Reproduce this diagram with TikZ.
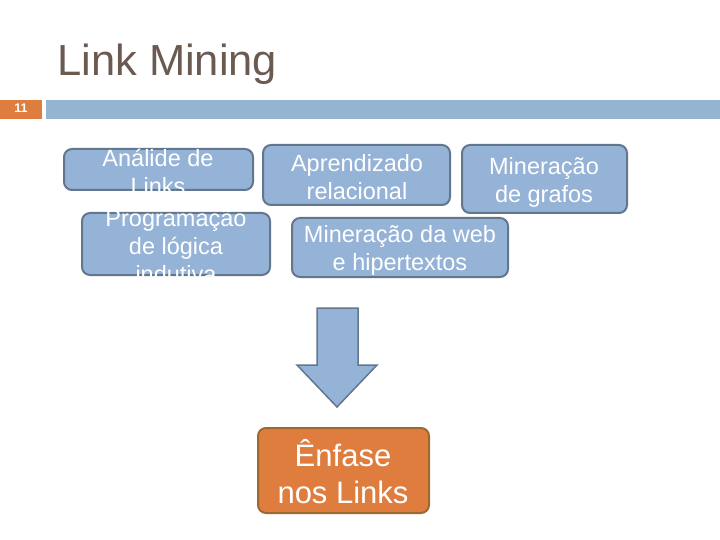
\documentclass[tikz,border=0pt]{standalone}
\usepackage{fontspec}
\setmainfont{Liberation Sans}
\definecolor{boxblue}{HTML}{95B3D7}
\definecolor{boxedge}{HTML}{62778E}
\definecolor{barblue}{HTML}{94B4D2}
\definecolor{orfill}{HTML}{DE7D3E}
\definecolor{oredge}{HTML}{9C6A30}
\definecolor{titlecol}{HTML}{6A5A52}
\tikzset{
  bluebox/.style={draw=boxedge, fill=boxblue, line width=2pt, rounded corners=8pt},
  orbox/.style={draw=oredge, fill=orfill, line width=2pt, rounded corners=8pt},
  boxtext/.style={text=white, align=center, font=\fontsize{23.5}{28}\selectfont, inner sep=0pt},
}
\begin{document}
\begin{tikzpicture}[x=1pt,y=-1pt]
\useasboundingbox (0,0) rectangle (720,540);
% title
\node[anchor=base west, inner sep=0pt, text=titlecol, font=\fontsize{43.5}{50}\selectfont] (title) at (57,76) {Link Mining};
% header bar
\fill[orfill] (0,100) rectangle (42,119);
\node[text=white, font=\fontsize{12.5}{14}\selectfont\bfseries, inner sep=0pt] (num) at (21,108.5) {11};
\fill[barblue] (46,100) rectangle (720,119);
% boxes
\draw[bluebox] (64,149) rectangle (253,190);
\begin{scope}
\clip (58,146) rectangle (260,191);
\node[boxtext] (t1) at (158,172) {Análide de\\Links};
\end{scope}
\draw[bluebox] (82,213) rectangle (270,275);
\begin{scope}
\clip (76,211) rectangle (276,282);
\node[boxtext] (t2) at (176,246) {Programação\\de lógica\\indutiva};
\end{scope}
\draw[bluebox] (263,145) rectangle (450,205);
\node[boxtext] (t3) at (357,177) {Aprendizado\\relacional};
\draw[bluebox] (462,145) rectangle (627,213);
\node[boxtext] (t4) at (544,182) {Mineração\\de grafos};
\draw[bluebox] (292,218) rectangle (508,277);
\node[boxtext] (t5) at (400,250) {Mineração da web\\e hipertextos};
% arrow
\draw[draw=boxedge, fill=boxblue, line width=1.5pt, line join=miter]
  (317,308) -- (358,308) -- (358,365) -- (377,365) -- (337,407) -- (297,365) -- (317,365) -- cycle;
% result
\draw[orbox] (258,428) rectangle (429,513);
\node[boxtext, font=\fontsize{31}{37}\selectfont] (t6) at (343,472) {Ênfase\\nos Links};
\end{tikzpicture}
\end{document}
